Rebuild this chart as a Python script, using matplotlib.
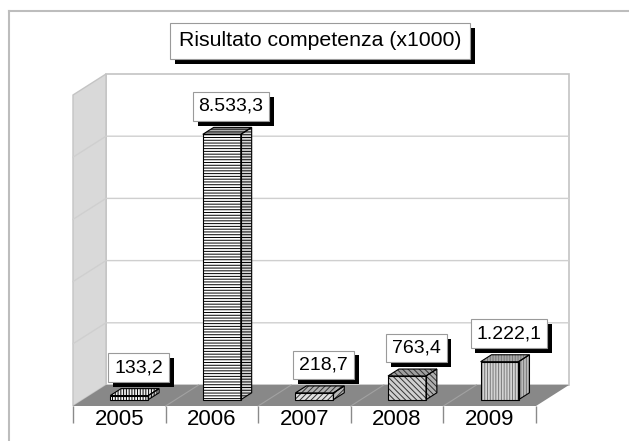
import matplotlib
matplotlib.use('Agg')
import matplotlib.pyplot as plt
import matplotlib.patches as mpatches
import matplotlib.lines as mlines
import matplotlib.patheffects as pe

plt.rcParams['font.family'] = ['Liberation Sans', 'DejaVu Sans']
plt.rcParams['hatch.linewidth'] = 0.7

# chart data
years = ['2005', '2006', '2007', '2008', '2009']
values = [133.2, 8533.3, 218.7, 763.4, 1222.1]
title = 'Risultato competenza (x1000)'
vmax = 10000
gridstep = 2000

# per-bar look: hatch, hatch colour, front / top / side fill
hatches = ['||||||', '------', '//////', '\\\\\\\\\\\\', '||||||']
hatchcols = ['black', 'black', '#333333', '#333333', '#777777']
fronts = ['white', 'white', '#e0e0e0', '#d0d0d0', '#d4d4d4']
tops = ['#f0f0f0', '#b0b0b0', '#b0b0b0', '#a0a0a0', '#a8a8a8']
sides = ['#c8c8c8', '#d8d8d8', '#b8b8b8', '#b0b0b0', '#bcbcbc']


def fmt_it(v):
    s = '{:,.1f}'.format(v)
    return s.replace(',', 'X').replace('.', ',').replace('X', '.')


def shadow_box(txt):
    txt.get_bbox_patch().set_path_effects([
        pe.SimplePatchShadow(offset=(3.5, -3.5), shadow_rgbFace='black', alpha=1.0),
        pe.Normal()])


W, H = 629, 441
fig = plt.figure(figsize=(W / 100, H / 100), dpi=100)

# outer light frame
fig.add_artist(mlines.Line2D([9 / W, 9 / W], [0, 1 - 11 / H], color='#bdbdbd', lw=1.5))
fig.add_artist(mlines.Line2D([9 / W, 1], [1 - 11 / H, 1 - 11 / H], color='#bdbdbd', lw=1.5))

# front plane of the 3d box
ax = fig.add_axes([73 / W, 35 / H, 463 / W, 311 / H])
n = len(years)
ax.set_xlim(0, n)
ax.set_ylim(0, vmax)
ax.set_facecolor('none')
for s in ax.spines.values():
    s.set_visible(False)

DX = 33 / 92.6      # depth offset in category units
DY = 21 / 311 * vmax  # depth offset in value units
t1, t2 = 0.30, 0.63
bw = 0.41

# back wall
ax.add_patch(mpatches.Polygon([(DX, DY), (n + DX, DY), (n + DX, vmax + DY), (DX, vmax + DY)],
                              closed=True, facecolor='white', edgecolor='#c4c4c4', lw=1.2,
                              clip_on=False, zorder=1))
# left wall
ax.add_patch(mpatches.Polygon([(0, 0), (DX, DY), (DX, vmax + DY), (0, vmax)],
                              closed=True, facecolor='#d9d9d9', edgecolor='#c4c4c4', lw=1.0,
                              clip_on=False, zorder=1))
# gridlines
for g in range(gridstep, vmax, gridstep):
    ax.plot([0, DX, n + DX], [g, g + DY, g + DY], color='#cfcfcf', lw=1.0,
            clip_on=False, zorder=2)
# floor
ax.add_patch(mpatches.Polygon([(0, 0), (n, 0), (n + DX, DY), (DX, DY)],
                              closed=True, facecolor='#888888', edgecolor='none',
                              clip_on=False, zorder=2))
for i in range(1, n):
    ax.plot([i, i + DX], [0, DY], color='#a2a2a2', lw=0.8, clip_on=False, zorder=2)

# bars
ddx = DX * (t2 - t1)
ddy = DY * (t2 - t1)
for i, v in enumerate(values):
    xl = i + 0.5 - bw / 2 + DX * t1
    xr = xl + bw
    yb = DY * t1
    yt = yb + v
    front = [(xl, yb), (xr, yb), (xr, yt), (xl, yt)]
    top = [(xl, yt), (xr, yt), (xr + ddx, yt + ddy), (xl + ddx, yt + ddy)]
    side = [(xr, yb), (xr + ddx, yb + ddy), (xr + ddx, yt + ddy), (xr, yt)]
    for poly, fc in [(front, fronts[i]), (top, tops[i]), (side, sides[i])]:
        ax.add_patch(mpatches.Polygon(poly, closed=True, facecolor=fc,
                                      edgecolor=hatchcols[i], lw=0, hatch=hatches[i],
                                      clip_on=False, zorder=3))
        ax.add_patch(mpatches.Polygon(poly, closed=True, fill=False,
                                      edgecolor='black', lw=0.8,
                                      clip_on=False, zorder=4))

    # value label with black drop shadow
    lx = i + 0.5 + DX * 0.58
    ly = DY * t2 + v
    lab = ax.annotate(fmt_it(v), (lx, ly), xytext=(0, 9), textcoords='offset points',
                      ha='center', va='bottom', fontsize=14, color='black',
                      annotation_clip=False, zorder=6,
                      bbox=dict(boxstyle='square,pad=0.3', facecolor='white',
                                edgecolor='#9a9a9a', lw=0.8))
    shadow_box(lab)

# category ticks
ax.set_xticks(range(n + 1))
ax.set_xticklabels([])
ax.set_xticks([i + 0.5 for i in range(n)], minor=True)
ax.set_xticklabels(years, minor=True, fontsize=16)
ax.tick_params(axis='x', which='major', direction='out', length=12.5, width=1, color='#8a8a8a')
ax.tick_params(axis='x', which='minor', length=0, pad=2.5)
ax.set_yticks([])

# title box with shadow
ttl = fig.text(320 / W, 1 - 41 / H, title, ha='center', va='center', fontsize=15.3,
               color='black', zorder=6,
               bbox=dict(boxstyle='square,pad=0.4', facecolor='white',
                         edgecolor='#9a9a9a', lw=0.8))
shadow_box(ttl)

fig.savefig('out.png', dpi=100, facecolor='white')
